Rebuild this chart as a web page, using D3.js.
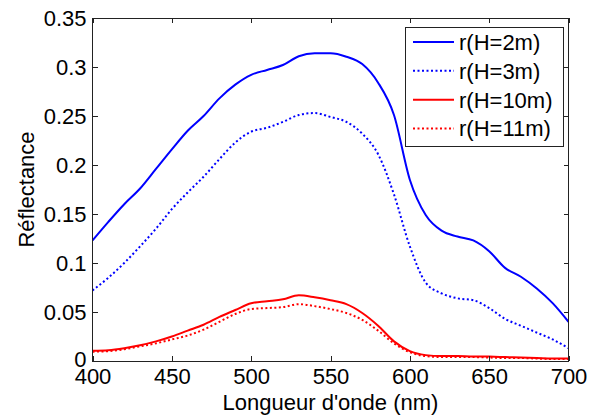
<!DOCTYPE html>
<html><head><meta charset="utf-8">
<script src="https://cdn.jsdelivr.net/npm/d3@7"></script>
<style>
html,body{margin:0;padding:0;background:#fff;}
text{font-family:"Liberation Sans",Arial,sans-serif;fill:#000;}
</style></head>
<body>
<svg id="chart" width="589" height="416"></svg>
<script>
const wavelengths = [400,410,420,430,440,450,460,470,480,490,500,510,520,530,540,550,560,570,580,590,600,610,620,630,640,650,660,670,680,690,700];
const r2m  = [0.123,0.142,0.160,0.176,0.196,0.216,0.235,0.250,0.268,0.282,0.292,0.297,0.302,0.311,0.314,0.314,0.3105,0.303,0.284,0.251,0.185,0.149,0.133,0.127,0.123,0.112,0.095,0.086,0.074,0.059,0.040];
const r3m  = [0.072,0.085,0.100,0.117,0.135,0.155,0.172,0.188,0.206,0.223,0.234,0.238,0.244,0.251,0.253,0.249,0.244,0.232,0.211,0.170,0.117,0.080,0.069,0.064,0.062,0.054,0.043,0.036,0.029,0.022,0.013];
const r10m = [0.0105,0.011,0.013,0.016,0.020,0.025,0.031,0.037,0.045,0.052,0.059,0.061,0.063,0.067,0.065,0.062,0.058,0.049,0.036,0.020,0.010,0.006,0.005,0.005,0.0045,0.0045,0.004,0.0035,0.003,0.0025,0.0025];
const r11m = [0.0095,0.010,0.012,0.015,0.018,0.022,0.026,0.032,0.040,0.048,0.053,0.054,0.055,0.058,0.056,0.053,0.049,0.042,0.031,0.018,0.009,0.005,0.004,0.004,0.004,0.0035,0.003,0.003,0.0025,0.002,0.002];
const seriesNames = ["r(H=2m)","r(H=3m)","r(H=10m)","r(H=11m)"];
const seriesColors = ["#0000ff","#0000ff","#ff0000","#ff0000"];
const seriesDotted = [false,true,false,true];
const xTicks = [400,450,500,550,600,650,700];
const yTicks = [0,0.05,0.1,0.15,0.2,0.25,0.3,0.35];
const xLabel = "Longueur d'onde (nm)";
const yLabel = "Réflectance";

const seriesValues = [r2m, r3m, r10m, r11m];
const L = 92.5, R = 568.5, T = 18, B = 361;
const svg = d3.select("#chart");
const x = d3.scaleLinear().domain([400,700]).range([L,R]);
const y = d3.scaleLinear().domain([0,0.35]).range([B,T]);

svg.append("clipPath").attr("id","clip").append("rect")
  .attr("x",L).attr("y",T).attr("width",R-L).attr("height",B-T);

const line = d3.line().x(d=>x(d[0])).y(d=>y(d[1])).curve(d3.curveMonotoneX);
const g = svg.append("g").attr("clip-path","url(#clip)");
seriesValues.forEach((vals,i)=>{
  g.append("path")
    .datum(wavelengths.map((w,j)=>[w,vals[j]]))
    .attr("d",line)
    .attr("fill","none")
    .attr("stroke",seriesColors[i])
    .attr("stroke-width",2)
    .attr("stroke-linejoin","round")
    .attr("stroke-dasharray",seriesDotted[i]?"2,2.5":null);
});

// axes
const fmt = d => d===0 ? "0" : String(+d.toFixed(2));
const axisColor = "#222";
function styleAxis(sel, labels){
  sel.select(".domain").remove();
  sel.selectAll(".tick line").attr("stroke",axisColor).attr("shape-rendering","crispEdges");
  if(!labels) sel.selectAll(".tick text").remove();
  else sel.selectAll(".tick text").attr("font-size",22).attr("font-family","Liberation Sans, Arial, sans-serif").attr("fill","#000");
}
svg.append("g").attr("transform",`translate(0,${B})`)
  .call(d3.axisBottom(x).tickValues(xTicks).tickSize(-5).tickPadding(7).tickFormat(d3.format("d")))
  .call(s=>styleAxis(s,true));
svg.append("g").attr("transform",`translate(0,${T})`)
  .call(d3.axisTop(x).tickValues(xTicks).tickSize(-5).tickFormat(""))
  .call(s=>styleAxis(s,false));
svg.append("g").attr("transform",`translate(${L},0)`)
  .call(d3.axisLeft(y).tickValues(yTicks).tickSize(-5).tickPadding(6).tickFormat(fmt))
  .call(s=>styleAxis(s,true))
  .call(s=>s.selectAll(".tick text").filter(d=>d===0).attr("dy","0.24em"));
svg.append("g").attr("transform",`translate(${R},0)`)
  .call(d3.axisRight(y).tickValues(yTicks).tickSize(-5).tickFormat(""))
  .call(s=>styleAxis(s,false));

svg.append("rect").attr("x",L).attr("y",T).attr("width",R-L).attr("height",B-T)
  .attr("fill","none").attr("stroke",axisColor).attr("stroke-width",1).attr("shape-rendering","crispEdges");

// axis labels
svg.append("text").attr("x",(L+R)/2).attr("y",410).attr("text-anchor","middle")
  .attr("font-size",22).text(xLabel);
svg.append("text").attr("transform",`translate(33.5,${(T+B)/2}) rotate(-90)`)
  .attr("text-anchor","middle").attr("font-size",22).text(yLabel);

// legend
const lg = svg.append("g");
lg.append("rect").attr("x",405).attr("y",27.5).attr("width",158).attr("height",119)
  .attr("fill","#fff").attr("stroke",axisColor).attr("shape-rendering","crispEdges");
const rowY = d3.scalePoint().domain(seriesNames).range([42,128.5]);
seriesNames.forEach((n,i)=>{
  const yy = rowY(n);
  lg.append("line").attr("x1",413).attr("x2",454).attr("y1",yy).attr("y2",yy)
    .attr("stroke",seriesColors[i]).attr("stroke-width",2)
    .attr("stroke-dasharray",seriesDotted[i]?"2,2.5":null);
  lg.append("text").attr("x",459).attr("y",yy).attr("dy","0.36em")
    .attr("font-size",22).text(n);
});
</script>
</body></html>
